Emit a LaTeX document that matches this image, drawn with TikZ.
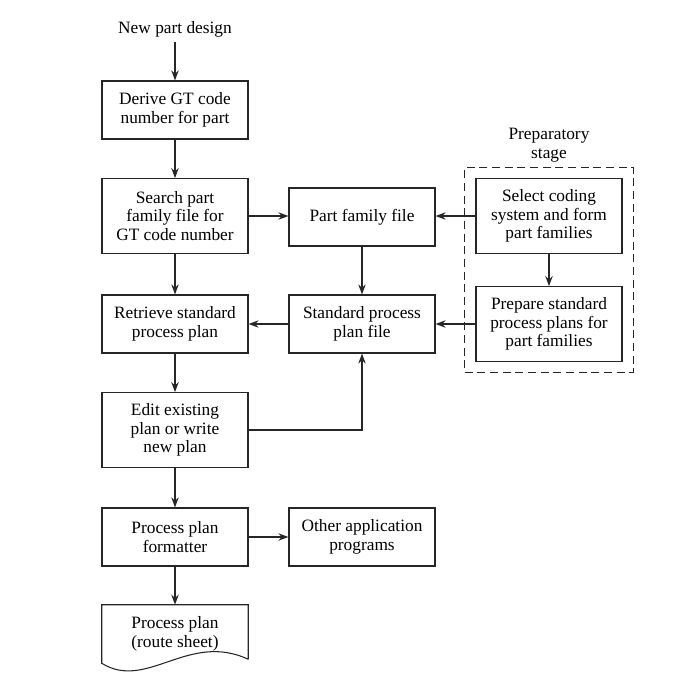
\documentclass[tikz,border=0pt]{standalone}
\usepackage{fontspec}
\setmainfont{Liberation Serif}
\usetikzlibrary{arrows.meta,positioning,fit}
\colorlet{lineA}{black!85}

\begin{document}
\begin{tikzpicture}[x=0.75pt, y=-0.75pt,
    font=\fontsize{13}{14}\selectfont,
    box/.style={draw=lineA, line width=0.8pt, align=center, minimum width=109.5pt, minimum height=43.5pt, inner sep=2pt},
    tall/.style={minimum height=56pt},
    flow/.style={-{Stealth[length=7.5pt,width=5.5pt]}, line width=1.25pt, lineA}]
      \useasboundingbox (0,0) rectangle (681,697);
      % Main column
      \node (newpart) at (175,29) {New part design};
      \node[box] (derive) at (175,110) {Derive GT code\\number for part};
      \node[box, tall] (search) at (175,216) {Search part\\family file for\\GT code number};
      \node[box] (retrieve) at (175,324) {Retrieve standard\\process plan};
      \node[box, tall] (edit) at (175,430) {Edit existing\\plan or write\\new plan};
      \node[box] (formatter) at (175,537) {Process plan\\formatter};
      \node[align=center, minimum width=109.5pt, minimum height=43.5pt] (sheet) at (175,634) {Process plan\\(route sheet)};
      \draw[line width=0.8pt, lineA] ([yshift=3pt]sheet.south east) -- (sheet.north east) -- (sheet.north west) -- (sheet.south west)
        .. controls +(45,28) and +(-60,-28) .. ([yshift=3pt]sheet.south east);
      % Files
      \node[box] (pff) at (362,217) {Part family file};
      \node[box] (sppf) at (362,324) {Standard process\\plan file};
      \node[box] (other) at (362,537) {Other application\\programs};
      % Preparatory stage
      \node[box, tall] (select) at (549,216) {Select coding\\system and form\\part families};
      \node[box, tall] (prepare) at (549,324) {Prepare standard\\process plans for\\part families};
      \node[draw=lineA, line width=0.8pt, dash pattern=on 6pt off 3.5pt, fit=(select)(prepare), inner sep=8pt] (stage) {};
      \node[above=0pt of stage, align=center] (stagelabel) {Preparatory\\stage};
      % Connectors
      \draw[flow] (newpart) -- (derive);
      \draw[flow] (derive) -- (search);
      \draw[flow] (search.east) -- (search.east -| pff.west);
      \draw[flow] (search) -- (retrieve);
      \draw[flow] (pff) -- (sppf);
      \draw[flow] (sppf) -- (retrieve);
      \draw[flow] (retrieve) -- (edit);
      \draw[flow] (edit.east) -| (sppf.south);
      \draw[flow] (edit) -- (formatter);
      \draw[flow] (formatter) -- (other);
      \draw[flow] (formatter) -- (sheet.north);
      \draw[flow] (select.west) -- (select.west -| pff.east);
      \draw[flow] (select) -- (prepare);
      \draw[flow] (prepare.west) -- (prepare.west -| sppf.east);
    \end{tikzpicture}
\end{document}
